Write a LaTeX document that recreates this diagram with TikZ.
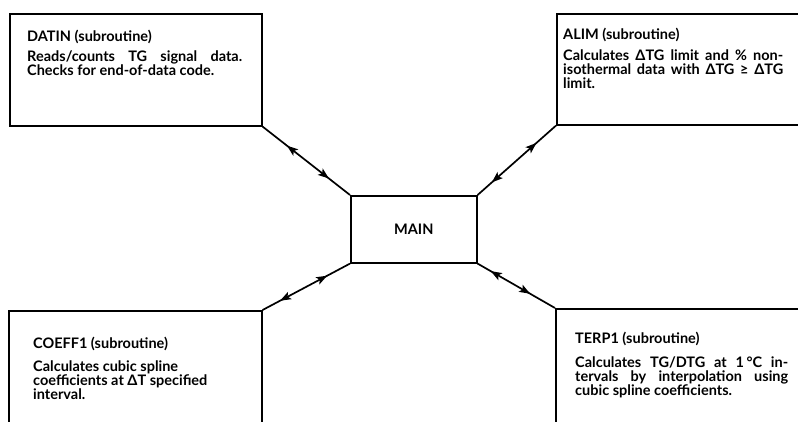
\documentclass[tikz,border=0pt]{standalone}
\usepackage{fontspec}
\setmainfont{Lato}
\usetikzlibrary{decorations.markings,arrows.meta}
\newcommand{\jline}[2]{\makebox[#1][s]{#2}}
\begin{document}
\begin{tikzpicture}[x=1pt,y=-1pt,
  box/.style={draw, line width=1.6pt, inner sep=0pt, anchor=north west},
  conn/.style={line width=1.7pt},
  heads/.style 2 args={decoration={markings,
     mark=at position #1 with {\arrowreversed{Stealth[length=11pt,width=8pt,inset=2.5pt]}},
     mark=at position #2 with {\arrow{Stealth[length=11pt,width=8pt,inset=2.5pt]}}},
     postaction={decorate}},
  t/.style={font=\fontsize{14.5}{16}\selectfont\bfseries, anchor=base west, inner sep=0pt}]
\useasboundingbox (0,0) rectangle (798,422);
\clip (0,0) rectangle (798,422);
% boxes
\node[box, minimum width=252pt, minimum height=112pt] (datin) at (9,13) {};
\node[box, minimum width=260pt, minimum height=111pt] (alim) at (556,13) {};
\node[box, minimum width=126pt, minimum height=67pt, font=\fontsize{14.5}{16}\selectfont\bfseries] (main) at (350,195) {MAIN};
\node[box, minimum width=253pt, minimum height=130pt] (coeff) at (8,310) {};
\node[box, minimum width=260pt, minimum height=130pt] (terp) at (555,308) {};
% connectors
\draw[conn, heads={0.28}{0.76}] (datin.south east) -- (main.north west);
\draw[conn, heads={0.25}{0.82}] (alim.south west) -- (main.north east);
\draw[conn, heads={0.20}{0.74}] (coeff.north east) -- (main.south west);
\draw[conn, heads={0.17}{0.68}] (main.south east) -- (terp.north west);
% DATIN text
\node[t] (d0) at (27,42) {DATIN (subroutine)};
\node[t] (d1) at (27,62) {\jline{215pt}{Reads/counts TG signal data.}};
\node[t] (d2) at (27,76) {Checks for end-of-data code.};
% ALIM text
\node[t] (a0) at (563,40) {ALIM (subroutine)};
\node[t] (a1) at (563,61) {\jline{220pt}{Calculates ΔTG limit and \% non-}};
\node[t] (a2) at (563,75) {\jline{220pt}{isothermal data with ΔTG ≥ ΔTG}};
\node[t] (a3) at (563,89) {limit.};
% COEFF1 text
\node[t] (c0) at (33,348) {COEFF1 (subroutine)};
\node[t] (c1) at (33,371) {Calculates cubic spline};
\node[t] (c2) at (33,385) {coefficients at ΔT specified};
\node[t] (c3) at (33,399) {interval.};
% TERP1 text
\node[t] (p0) at (575,343) {TERP1 (subroutine)};
\node[t] (p1) at (575,367) {\jline{213pt}{Calculates TG/DTG at 1\,°C in-}};
\node[t] (p2) at (575,381) {\jline{213pt}{tervals by interpolation using}};
\node[t] (p3) at (575,395) {cubic spline coefficients.};
\end{tikzpicture}
\end{document}
